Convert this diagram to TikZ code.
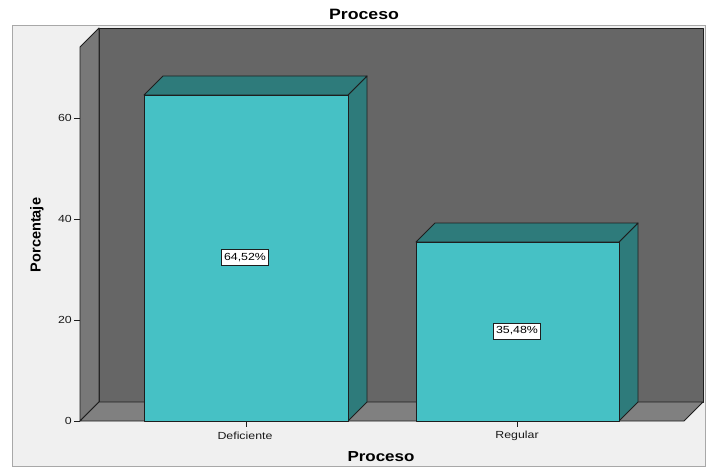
\documentclass[tikz,border=0pt]{standalone}
\usepackage{fontspec}
\setmainfont{Liberation Sans}
\definecolor{panel}{HTML}{F0F0F0}
\definecolor{panelline}{HTML}{A8A8A8}
\definecolor{wallback}{HTML}{666666}
\definecolor{wallside}{HTML}{787878}
\definecolor{wallfloor}{HTML}{808080}
\definecolor{barfront}{HTML}{46C1C5}
\definecolor{barshade}{HTML}{2E7B7B}
\definecolor{edge}{HTML}{1E1E1E}
\tikzset{
  facet/.style={draw=edge, line width=0.9pt, line join=round},
  ticklbl/.style={font=\fontsize{10.3}{12}\selectfont, text=black!90, xscale=1.2, inner sep=0pt},
  datalbl/.style={draw=edge, fill=white, line width=0.7pt, font=\fontsize{10.3}{12}\selectfont, xscale=1.2, inner sep=2pt, minimum height=16pt},
  axtitle/.style={font=\bfseries\fontsize{14.5}{16}\selectfont, inner sep=0pt},
}
\begin{document}
\begin{tikzpicture}[x=1pt,y=-1pt]
\useasboundingbox (0,0) rectangle (707,468);
\fill[white] (0,0) rectangle (707,468);
% outer panel
\draw[fill=panel, draw=panelline, line width=1pt] (12,26) rectangle (705,466);
% title
\node[axtitle, font=\bfseries\fontsize{15}{17}\selectfont, xscale=1.18] (title) at (364,14) {Proceso};
% back wall, side wall, floor
\draw[facet, fill=wallback] (99,28) rectangle (703,402);
\draw[facet, fill=wallside] (80,47) -- (99,28) -- (99,402) -- (80,421) -- cycle;
\draw[facet, fill=wallfloor] (80,421) -- (99,402) -- (703,402) -- (684,421) -- cycle;
% y axis ticks and labels
\foreach \v/\py in {0/421, 20/320, 40/219, 60/118} {
  \draw[edge, line width=0.8pt] (74,\py) -- (80,\py);
  \node[ticklbl, anchor=east] (ytick\v) at (72,\py) {\v};
}
% bar: Deficiente
\draw[facet, fill=barshade] (348,95) -- (367,76) -- (367,402) -- (348,421) -- cycle;
\draw[facet, fill=barshade] (144,95) -- (163,76) -- (367,76) -- (348,95) -- cycle;
\draw[facet, fill=barfront] (144,95) rectangle (348,421);
% bar: Regular
\draw[facet, fill=barshade] (619,242) -- (638,223) -- (638,402) -- (619,421) -- cycle;
\draw[facet, fill=barshade] (416,242) -- (435,223) -- (638,223) -- (619,242) -- cycle;
\draw[facet, fill=barfront] (416,242) rectangle (619,421);
% x axis ticks and category labels
\draw[edge, line width=0.8pt] (246,421) -- (246,427);
\draw[edge, line width=0.8pt] (517,421) -- (517,427);
\node[ticklbl] (catA) at (245,436) {Deficiente};
\node[ticklbl] (catB) at (517,436) {Regular};
% value labels
\node[datalbl] (valA) at (245,257.5) {64,52\%};
\node[datalbl] (valB) at (517,331) {35,48\%};
% axis titles
\node[axtitle, xscale=1.17] (xtitle) at (381,457) {Proceso};
\node[axtitle, rotate=90] (ytitle) at (37,235) {Porcentaje};
\end{tikzpicture}
\end{document}
